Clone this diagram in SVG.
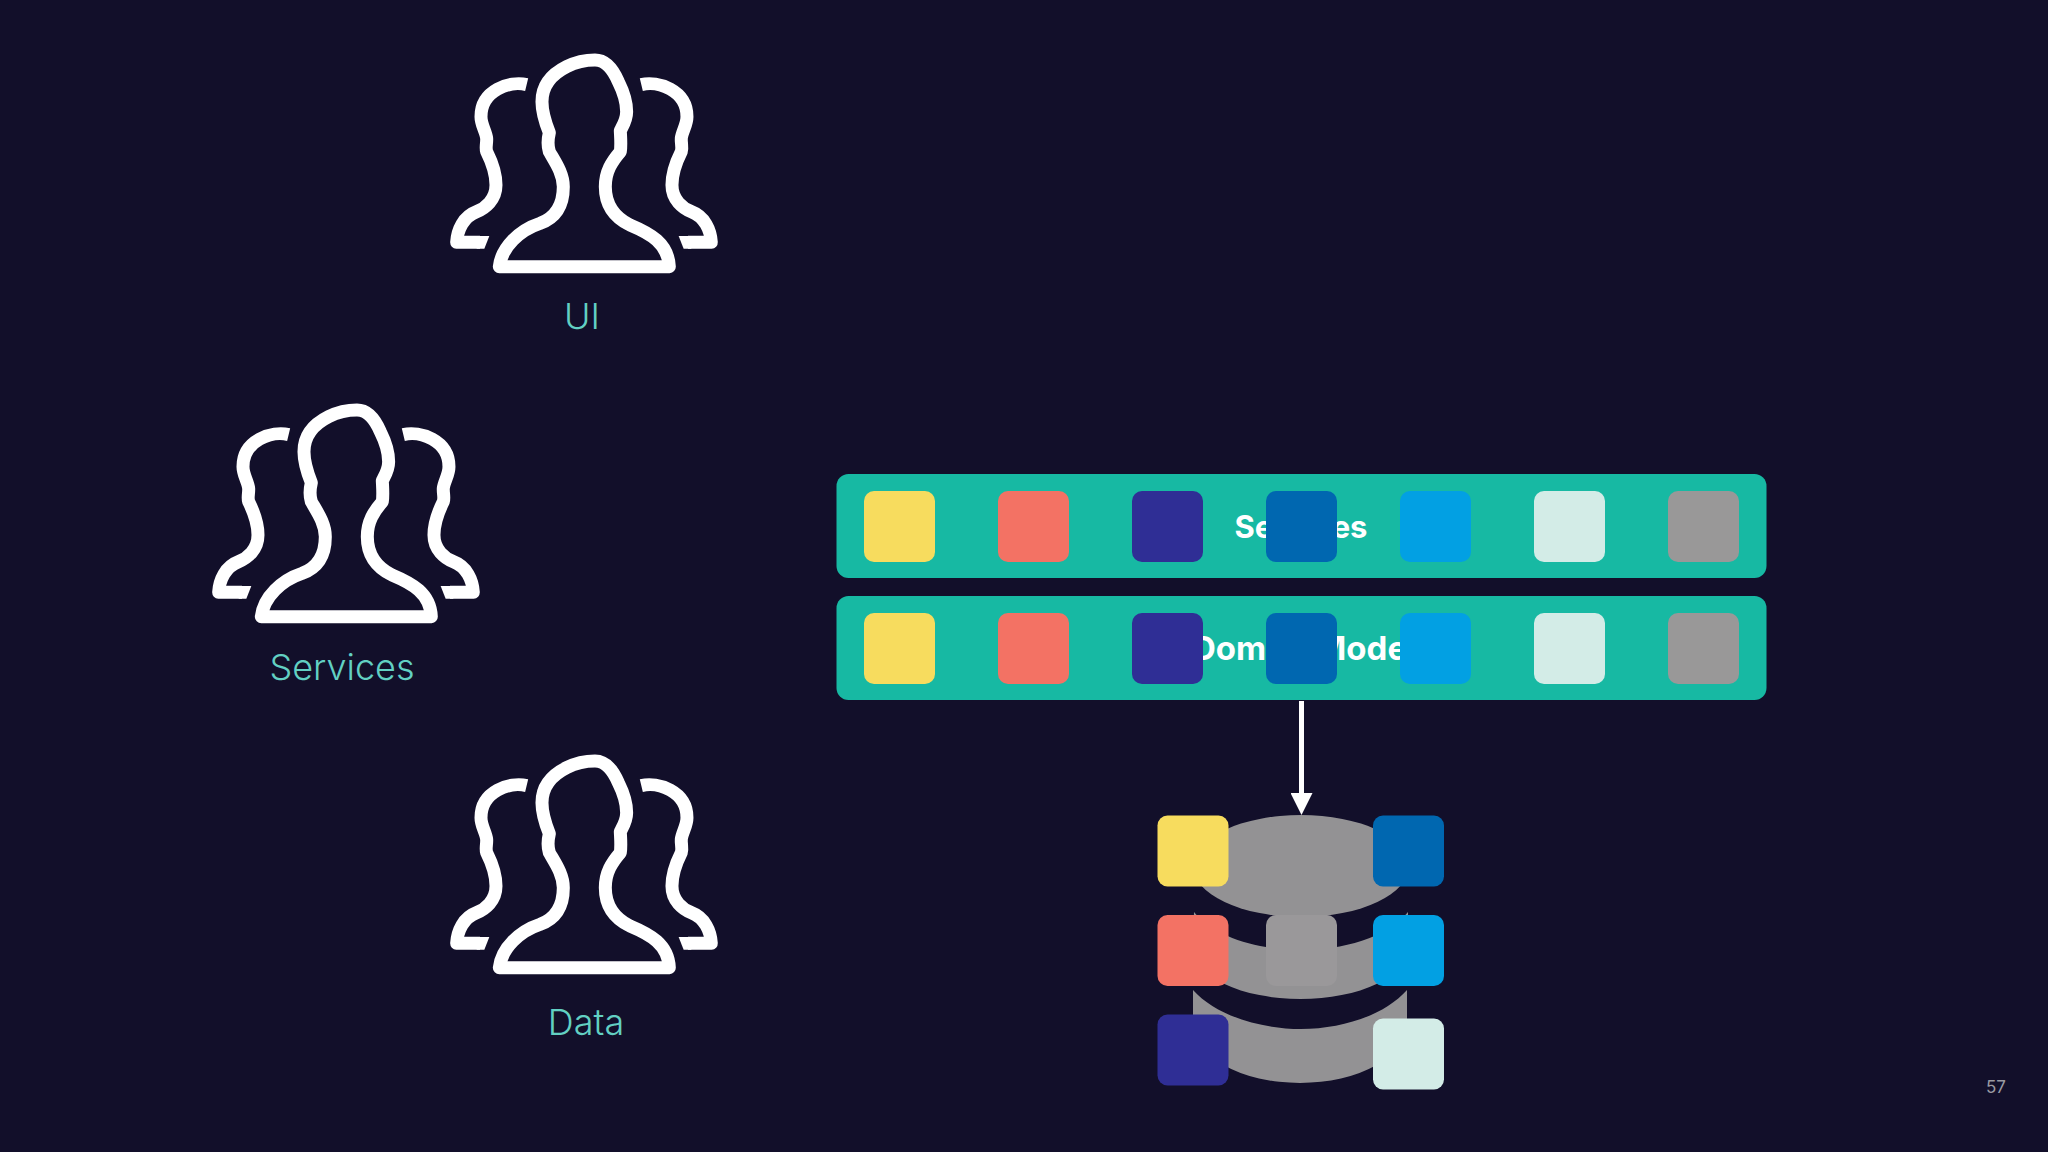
<svg xmlns="http://www.w3.org/2000/svg" width="2048" height="1152" viewBox="0 0 2048 1152">
<style>
.lbl{font-family:"Inter","Liberation Sans",sans-serif;font-size:36px;font-weight:350;fill:#62d0c3;text-anchor:middle}
.bar{fill:#17b9a3}
.bt{font-family:"Inter","Liberation Sans",sans-serif;font-size:33px;font-weight:700;fill:#fff;text-anchor:middle}
.p{fill:none;stroke:#fff;stroke-width:39;stroke-linejoin:round}
.y{fill:#f7dc5e}.r{fill:#f37264}.n{fill:#2f2e95}.b{fill:#0067b0}.c{fill:#02a0e3}.w{fill:#d3ece7}.g{fill:#999898}
.cy{fill:#939294}
</style>
<defs>
<g id="side">
<path class="p" d="M290,134C240,122 153,150 153,230C153,255 168,275 170,295C171,310 166,322 170,335C185,365 198,395 198,435C198,480 165,505 140,515C100,530 82,570 80,607H150"/>
<path fill="#fff" d="M140,588H178L163,626H140Z"/>
</g>
<g id="people" transform="scale(0.3333)">
<path class="p" d="M208,680C215,620 270,570 330,550C385,530 400,485 400,440C400,400 375,365 358,335C352,315 354,295 358,278C345,245 336,215 336,185C336,130 370,100 410,80C440,65 470,60 495,60C530,60 550,90 565,125C580,155 590,185 590,215C590,240 578,258 571,272C572,295 574,315 571,335C545,365 526,395 526,440C526,490 550,530 600,555C660,580 715,610 718,680Z"/>
<use href="#side"/>
<use href="#side" transform="translate(924,0) scale(-1,1)"/>
</g>
<rect id="sq" width="71" height="71" rx="10"/>
<marker id="ah" markerUnits="userSpaceOnUse" markerWidth="22" markerHeight="22" refX="0" refY="11" orient="auto"><path d="M0,0L22,11L0,22Z" fill="#fff"/></marker>
</defs>
<rect width="2048" height="1152" fill="#120f2a"/>
<g id="ui-team"><use href="#people" transform="translate(430,40)"/><text class="lbl" x="582" y="329">UI</text></g>
<g id="services-team"><use href="#people" transform="translate(192,390)"/><text class="lbl" x="342" y="680">Services</text></g>
<g id="data-team"><use href="#people" transform="translate(430,741)"/><text class="lbl" x="586" y="1035">Data</text></g>
<g id="services-bar">
<rect class="bar" x="836.5" y="474" width="930" height="104" rx="12"/>
<text class="bt" x="1301" y="538" style="font-size:31px">Services</text>
<use href="#sq" class="y" x="864" y="491"/><use href="#sq" class="r" x="998" y="491"/><use href="#sq" class="n" x="1132" y="491"/><use href="#sq" class="b" x="1266" y="491"/><use href="#sq" class="c" x="1400" y="491"/><use href="#sq" class="w" x="1534" y="491"/><use href="#sq" class="g" x="1668" y="491"/>
</g>
<g id="domain-bar">
<rect class="bar" x="836.5" y="596" width="930" height="104" rx="12"/>
<text class="bt" x="1304" y="660" word-spacing="-7">Domain Model</text>
<use href="#sq" class="y" x="864" y="613"/><use href="#sq" class="r" x="998" y="613"/><use href="#sq" class="n" x="1132" y="613"/><use href="#sq" class="b" x="1266" y="613"/><use href="#sq" class="c" x="1400" y="613"/><use href="#sq" class="w" x="1534" y="613"/><use href="#sq" class="g" x="1668" y="613"/>
</g>
<g id="connectors">
<path d="M1301.5,701V793" fill="none" stroke="#fff" stroke-width="5" marker-end="url(#ah)"/>
</g>
<g id="database">
<ellipse class="cy" cx="1301" cy="866" rx="108" ry="51"/>
<path class="cy" d="M1194,912C1215,938 1260,950 1301,950C1342,950 1387,938 1408,912V948A107.5,51 0 0 1 1193,948Z"/>
<path class="cy" d="M1193,990C1215,1015 1260,1029 1301,1029C1342,1029 1385,1015 1407,990V1023A107,60 0 0 1 1193,1023Z"/>
<use href="#sq" class="y" x="1157.5" y="815.5"/><use href="#sq" class="r" x="1157.5" y="915"/><use href="#sq" class="n" x="1157.5" y="1014.5"/>
<use href="#sq" x="1266" y="915" fill="#9a989a"/>
<use href="#sq" class="b" x="1373" y="815.5"/><use href="#sq" class="c" x="1373" y="915"/><use href="#sq" class="w" x="1373" y="1018.5"/>
</g>
<text x="1996" y="1093" font-family="Inter,'Liberation Sans',sans-serif" font-size="17" fill="#9a9aa2" text-anchor="middle">57</text>
</svg>
